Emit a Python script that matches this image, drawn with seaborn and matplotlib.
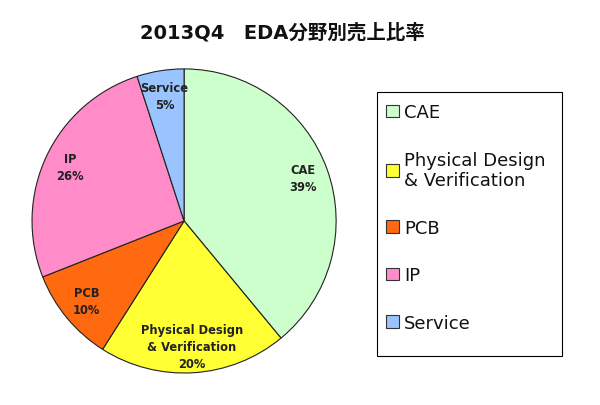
import matplotlib
matplotlib.use("Agg")
import matplotlib.pyplot as plt
import seaborn as sns

categories = ["CAE", "Physical Design\n& Verification", "PCB", "IP", "Service"]
shares = [39, 20, 10, 26, 5]
colors = ["#CCFFCC", "#FFFF33", "#FF6A10", "#FF8CC8", "#99C4FF"]
title = "2013Q4　EDA分野別売上比率"

sns.set_theme(style="white")
plt.rcParams["font.family"] = ["DejaVu Sans", "Noto Sans CJK JP"]
plt.rcParams["text.color"] = "#111111"

fig = plt.figure(figsize=(6, 4.06), dpi=100)
ax = fig.add_axes([0.0533, 0.0788, 0.507, 0.749])

labels_iter = iter(categories)
def fmt(p):
    return f"{next(labels_iter)}\n{p:.0f}%"

wedges, _, autotexts = ax.pie(
    shares, colors=colors, startangle=90, counterclock=False,
    autopct=fmt, pctdistance=0.83,
    wedgeprops=dict(edgecolor="#222222", linewidth=0.8),
    textprops=dict(fontsize=8.3, fontweight="bold", color="#222222", linespacing=1.4),
)
ax.set_xlim(-1, 1)
ax.set_ylim(-1, 1)
ax.set_aspect("equal")

fig.text(0.470, 0.92, title, ha="center", va="center", fontsize=14, fontweight="bold")

# legend frame
frame = plt.Rectangle((377 / 600, 1 - 357 / 406), (562 - 377) / 600, (357 - 93) / 406,
                      transform=fig.transFigure, fill=False, edgecolor="black", linewidth=0.8)
fig.add_artist(frame)
leg = fig.legend(wedges, categories, loc="upper left", bbox_to_anchor=(379 / 600, 1 - 97 / 406),
                 frameon=False, fontsize=13, handlelength=0.7, handleheight=0.7,
                 handletextpad=0.3, labelspacing=1.63, borderaxespad=0)
for h in leg.legend_handles:
    h.set_edgecolor("#333333")
    h.set_linewidth(0.8)

fig.savefig("out.png", dpi=100)
